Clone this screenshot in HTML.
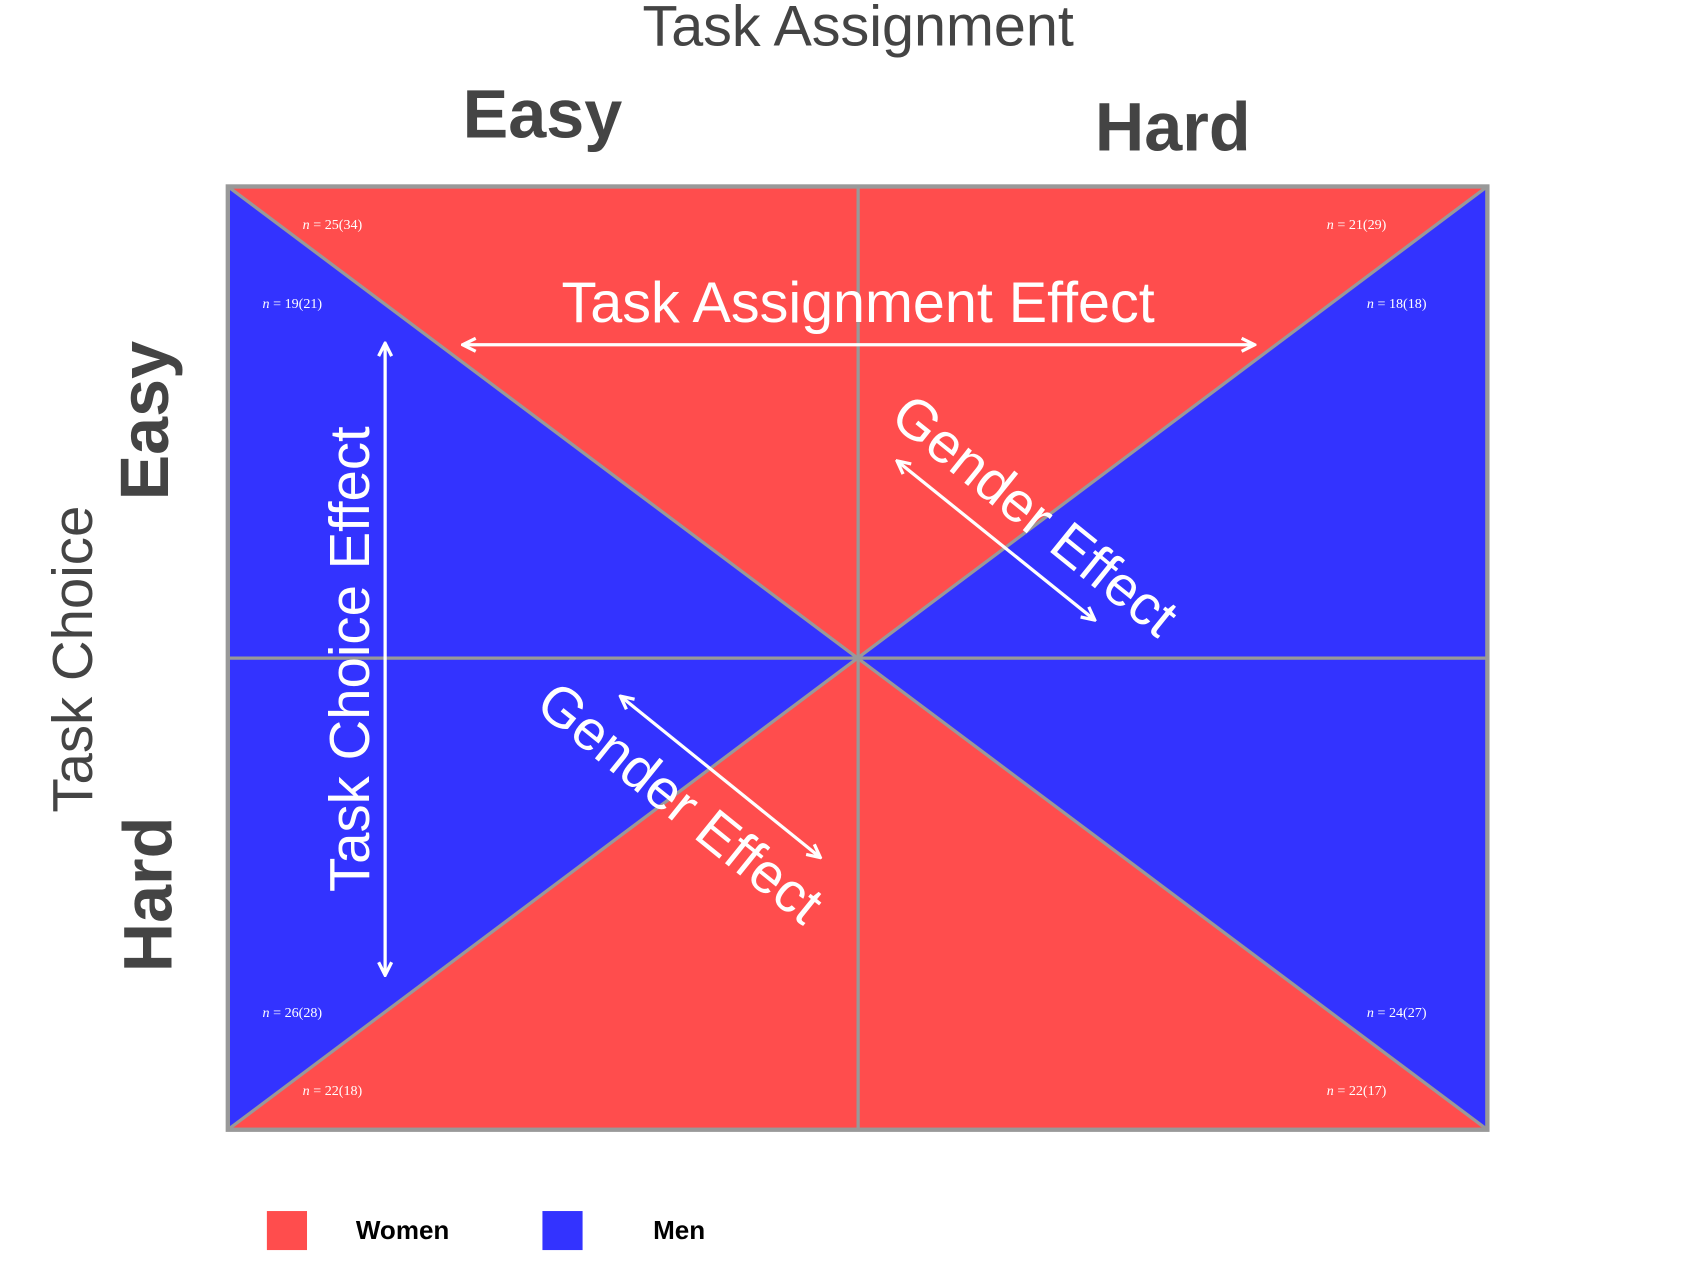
<!DOCTYPE html>
<html><head><meta charset="utf-8"><style>html,body{margin:0;padding:0;background:#fff}svg{display:block}</style></head>
<body>
<svg width="1700" height="1262" viewBox="0 0 1567 1164" preserveAspectRatio="none" xmlns="http://www.w3.org/2000/svg" font-family="Liberation Sans, sans-serif">
<defs>
<marker id="a" viewBox="0 0 10 10" refX="8" refY="5" markerWidth="5" markerHeight="5" orient="auto-start-reverse">
<path d="M1,1 L9,5 L1,9" fill="none" stroke="#fff" stroke-width="2"/>
</marker>
</defs>
<rect width="1567" height="1164" fill="#fff"/>
<text x="791" y="42" text-anchor="middle" font-size="53" fill="#444">Task Assignment</text>
<text x="500" y="127" text-anchor="middle" font-size="63" font-weight="bold" fill="#444">Easy</text>
<text x="1081" y="139" text-anchor="middle" font-size="63" font-weight="bold" fill="#444">Hard</text>
<text transform="translate(85,608) rotate(-90)" text-anchor="middle" font-size="52" fill="#444">Task Choice</text>
<text transform="translate(155,388) rotate(-90)" text-anchor="middle" font-size="63" font-weight="bold" fill="#444">Easy</text>
<text transform="translate(158,825) rotate(-90)" text-anchor="middle" font-size="63" font-weight="bold" fill="#444">Hard</text>

<polygon points="210,172 1371,172 791,607" fill="#FF4D4D"/>
<polygon points="210,1042 1371,1042 791,607" fill="#FF4D4D"/>
<polygon points="210,172 210,1042 791,607" fill="#3333FF"/>
<polygon points="1371,172 1371,1042 791,607" fill="#3333FF"/>
<g stroke="#999" stroke-width="3" fill="none">
<line x1="210" y1="172" x2="1371" y2="1042"/>
<line x1="1371" y1="172" x2="210" y2="1042"/>
<line x1="791" y1="172" x2="791" y2="1042"/>
<line x1="210" y1="607" x2="1371" y2="607"/>
<rect x="210" y="172" width="1161" height="870" stroke-width="4"/>
</g>

<g font-family="Liberation Serif, serif" font-size="13" fill="#fff">
<text x="279" y="211"><tspan font-style="italic">n</tspan> = 25(34)</text>
<text x="1223" y="211"><tspan font-style="italic">n</tspan> = 21(29)</text>
<text x="242" y="284"><tspan font-style="italic">n</tspan> = 19(21)</text>
<text x="1260" y="284"><tspan font-style="italic">n</tspan> = 18(18)</text>
<text x="242" y="938"><tspan font-style="italic">n</tspan> = 26(28)</text>
<text x="1260" y="938"><tspan font-style="italic">n</tspan> = 24(27)</text>
<text x="279" y="1010"><tspan font-style="italic">n</tspan> = 22(18)</text>
<text x="1223" y="1010"><tspan font-style="italic">n</tspan> = 22(17)</text>
</g>

<g stroke="#fff" stroke-width="3" fill="none" marker-start="url(#a)" marker-end="url(#a)">
<line x1="428" y1="318" x2="1155" y2="318"/>
<line x1="355" y1="318" x2="355" y2="898"/>
<line x1="828" y1="426" x2="1008" y2="571"/>
<line x1="573" y1="643" x2="755" y2="790"/>
</g>
<g fill="#fff" font-size="53" text-anchor="middle">
<text x="791" y="297">Task Assignment Effect</text>
<text transform="translate(340,608) rotate(-90)" font-size="52">Task Choice Effect</text>
<text transform="translate(943,489) rotate(38.9)" font-size="52">Gender Effect</text>
<text transform="translate(616,754) rotate(38.9)" font-size="52">Gender Effect</text>
</g>

<rect x="246" y="1117" width="37" height="36" fill="#FF4D4D"/>
<text x="328" y="1143" font-size="24" font-weight="bold" fill="#000">Women</text>
<rect x="500" y="1117" width="37" height="36" fill="#3333FF"/>
<text x="602" y="1143" font-size="24" font-weight="bold" fill="#000">Men</text>
</svg>
</body></html>
